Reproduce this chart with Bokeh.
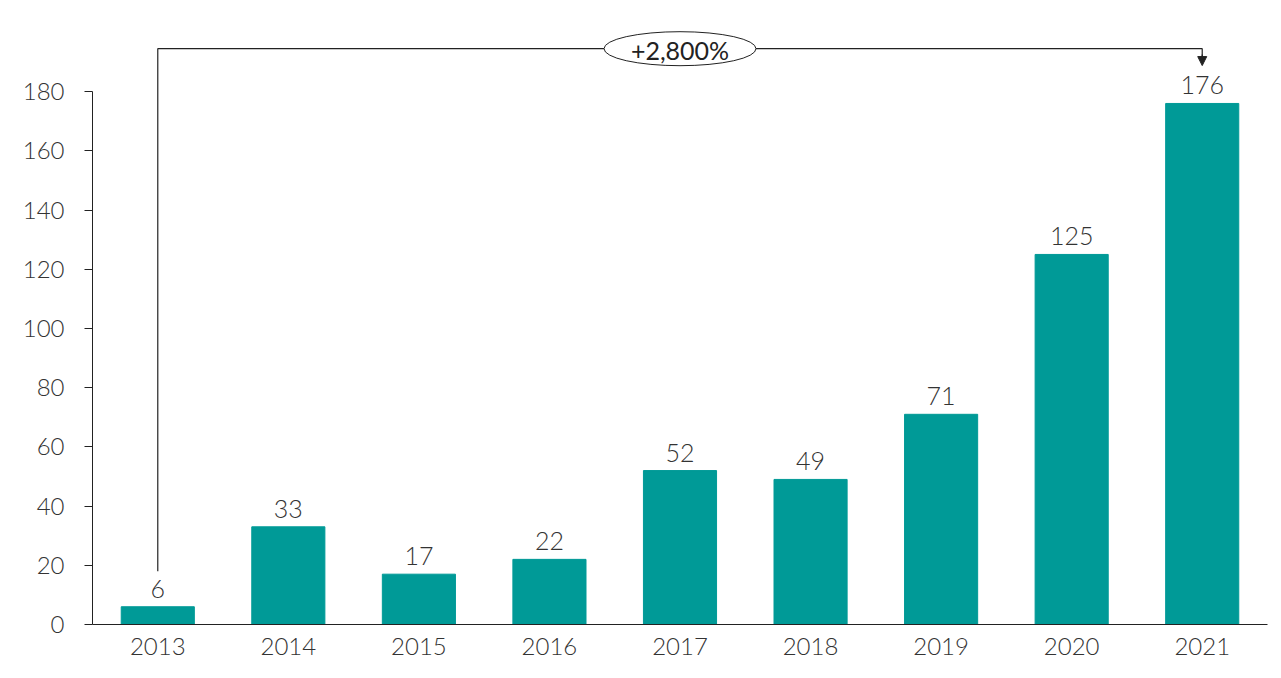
from bokeh.plotting import figure
from bokeh.models import ColumnDataSource, FixedTicker, Range1d, Arrow, NormalHead
from bokeh.core.properties import value
from bokeh.embed import file_html
from bokeh.resources import INLINE

years = ["2013", "2014", "2015", "2016", "2017", "2018", "2019", "2020", "2021"]
values = [6, 33, 17, 22, 52, 49, 71, 125, 176]
y_ticks = [0, 20, 40, 60, 80, 100, 120, 140, 160, 180]
growth_label = "+2,800%"

BAR = "#009a97"
TXT = "#333333"
LINE = "#222222"
FONT = "Lato Light"

xs = list(range(len(years)))
src = ColumnDataSource(dict(x=xs, top=values, label=[str(v) for v in values]))

p = figure(width=1273, height=670, output_backend="svg", toolbar_location=None,
           x_range=Range1d(-0.5, len(years) - 0.5), y_range=Range1d(0, 207.4),
           min_border_left=92, min_border_right=6, min_border_top=10, min_border_bottom=46)
p.outline_line_color = None
p.xgrid.visible = False
p.ygrid.visible = False

p.vbar(x="x", top="top", width=0.56, bottom=0, source=src, color=BAR)
p.text(x="x", y="top", text="label", source=src, text_align="center", text_baseline="bottom",
       y_offset=-9, text_font=value(FONT), text_font_size="25px", text_color=TXT)

# bracket annotation
y_top = 194.5
p.line(x=[xs[0], xs[0], xs[-1], xs[-1]], y=[values[0] + 12, y_top, y_top, y_top - 3],
       line_color=LINE, line_width=1.2)
p.add_layout(Arrow(end=NormalHead(size=9, line_color=LINE, fill_color=LINE, line_width=1),
                   x_start=xs[-1], y_start=y_top - 2, x_end=xs[-1], y_end=values[-1] + 12.8,
                   line_color=LINE, line_width=1.2))
mid = (xs[0] + xs[-1]) / 2
p.ellipse(x=[mid], y=[y_top], width=152, height=34, width_units="screen", height_units="screen",
          fill_color="white", line_color=LINE, line_width=1)
p.text(x=[mid], y=[y_top], text=[growth_label], text_align="center", text_baseline="middle",
       text_font=value("Lato"), text_font_size="25px", text_color=LINE, y_offset=1)

# axes
ya = p.yaxis[0]
ya.ticker = FixedTicker(ticks=y_ticks)
ya.bounds = (0, 180)
ya.minor_tick_line_color = None
ya.major_tick_in = 0
ya.major_tick_out = 8
ya.axis_line_color = LINE
ya.major_tick_line_color = LINE
ya.major_label_text_font = FONT
ya.major_label_text_font_size = "24px"
ya.major_label_text_color = TXT
ya.major_label_standoff = 20

xa = p.xaxis[0]
xa.ticker = FixedTicker(ticks=xs)
xa.major_label_overrides = {i: y for i, y in enumerate(years)}
xa.minor_tick_line_color = None
xa.major_tick_line_color = None
xa.axis_line_color = LINE
xa.major_label_text_font = FONT
xa.major_label_text_font_size = "24px"
xa.major_label_text_color = TXT
xa.major_label_standoff = 7

open("out.html", "w").write(file_html(p, INLINE))
